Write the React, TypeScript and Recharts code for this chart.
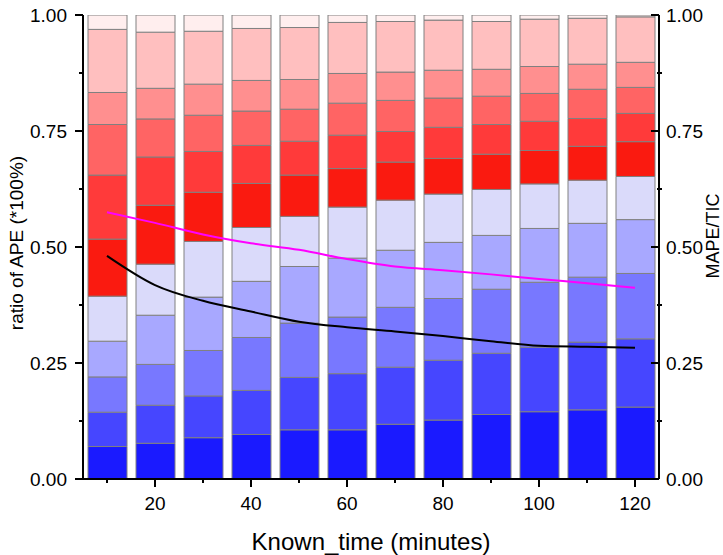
import { ComposedChart, Bar, Line, XAxis, YAxis } from 'recharts';

// x categories (minutes)
const knownTime = [10, 20, 30, 40, 50, 60, 70, 80, 90, 100, 110, 120];

// share of each APE band, bottom band first
const ape1 = [0.070, 0.077, 0.089, 0.096, 0.106, 0.106, 0.118, 0.127, 0.139, 0.145, 0.149, 0.155];
const ape2 = [0.074, 0.082, 0.090, 0.095, 0.113, 0.121, 0.123, 0.129, 0.132, 0.139, 0.146, 0.147];
const ape3 = [0.076, 0.088, 0.098, 0.114, 0.117, 0.122, 0.129, 0.133, 0.138, 0.140, 0.140, 0.141];
const ape4 = [0.077, 0.106, 0.115, 0.121, 0.122, 0.127, 0.123, 0.121, 0.116, 0.116, 0.116, 0.116];
const ape5 = [0.097, 0.110, 0.120, 0.116, 0.108, 0.110, 0.108, 0.104, 0.099, 0.096, 0.093, 0.093];
const ape6 = [0.123, 0.127, 0.106, 0.095, 0.089, 0.083, 0.082, 0.077, 0.076, 0.072, 0.073, 0.075];
const ape7 = [0.138, 0.104, 0.088, 0.082, 0.073, 0.072, 0.066, 0.067, 0.064, 0.063, 0.060, 0.061];
const ape8 = [0.109, 0.082, 0.078, 0.074, 0.069, 0.069, 0.067, 0.063, 0.061, 0.060, 0.063, 0.056];
const ape9 = [0.069, 0.066, 0.067, 0.066, 0.064, 0.064, 0.061, 0.060, 0.058, 0.058, 0.054, 0.054];
const ape10 = [0.136, 0.121, 0.114, 0.112, 0.112, 0.110, 0.109, 0.108, 0.103, 0.102, 0.099, 0.098];
const ape11 = [0.031, 0.037, 0.035, 0.029, 0.027, 0.016, 0.014, 0.011, 0.014, 0.009, 0.007, 0.004];

// right axis lines
const mape = [0.575, 0.552, 0.527, 0.508, 0.494, 0.474, 0.458, 0.450, 0.441, 0.431, 0.422, 0.412];
const tic = [0.481, 0.418, 0.384, 0.361, 0.339, 0.327, 0.318, 0.308, 0.297, 0.287, 0.285, 0.283];

const yTicks = [0, 0.125, 0.25, 0.375, 0.5, 0.625, 0.75, 0.875, 1];

const segments = [ape1, ape2, ape3, ape4, ape5, ape6, ape7, ape8, ape9, ape10, ape11];
const segColors = [
    '#1a1aff', '#4646ff', '#7878ff', '#a8a8ff', '#dadafa',
    '#fa1a10', '#ff3a3a', '#ff6464', '#ff8f8f', '#ffbfbf', '#ffeeee',
];

const data = knownTime.map((t, i) => {
    const row: any = { t, mape: mape[i], tic: tic[i] };
    segments.forEach((s, k) => {
        row[`s${k}`] = s[i];
    });
    return row;
});

const FONT = "'Liberation Sans', Arial, sans-serif";

const XTick = (props: any) => {
    const { x, y, payload } = props;
    const major = payload.value % 20 === 0;
    return (
        <g>
            <line x1={x} y1={y} x2={x} y2={y + (major ? 8 : 4)} stroke="#000" strokeWidth={2} />
            {major && (
                <text x={x} y={y + 31} textAnchor="middle" fontSize={19} fontFamily={FONT} fill="#000">
                    {payload.value}
                </text>
            )}
        </g>
    );
};

const isMajor = (v: number) => Math.abs(v * 4 - Math.round(v * 4)) < 1e-6;

const LeftTick = (props: any) => {
    const { x, y, payload } = props;
    const major = isMajor(payload.value);
    return (
        <g>
            <line x1={x - (major ? 8 : 4)} y1={y} x2={x} y2={y} stroke="#000" strokeWidth={2} />
            {major && (
                <text x={x - 16} y={y} dy="0.36em" textAnchor="end" fontSize={19} fontFamily={FONT} fill="#000">
                    {payload.value.toFixed(2)}
                </text>
            )}
        </g>
    );
};

const RightTick = (props: any) => {
    const { x, y, payload } = props;
    const major = isMajor(payload.value);
    return (
        <g>
            {major ? (
                <line x1={x - 8} y1={y} x2={x} y2={y} stroke="#000" strokeWidth={2} />
            ) : (
                <line x1={x - 2} y1={y} x2={x + 3} y2={y} stroke="#000" strokeWidth={2} />
            )}
            {major && (
                <text x={x + 7} y={y} dy="0.36em" textAnchor="start" fontSize={19} fontFamily={FONT} fill="#000">
                    {payload.value.toFixed(2)}
                </text>
            )}
        </g>
    );
};

const leftTitle = (props: any) => {
    const vb = props.viewBox;
    const cx = vb.x + 16;
    const cy = vb.y + vb.height / 2 - 4;
    return (
        <text x={cx} y={cy} dy="0.36em" transform={`rotate(-90 ${cx} ${cy})`} textAnchor="middle"
            fontSize={19} fontFamily={FONT} fill="#000">
            ratio of APE (*100%)
        </text>
    );
};

const rightTitle = (props: any) => {
    const vb = props.viewBox;
    const cx = vb.x + 54;
    const cy = vb.y + vb.height / 2 - 11;
    return (
        <text x={cx} y={cy} dy="0.36em" transform={`rotate(-90 ${cx} ${cy})`} textAnchor="middle"
            fontSize={18} fontFamily={FONT} fill="#000">
            MAPE/TIC
        </text>
    );
};

const xTitle = (props: any) => {
    const vb = props.viewBox;
    return (
        <text x={vb.x + vb.width / 2} y={vb.y + 71} textAnchor="middle" fontSize={24} fontFamily={FONT} fill="#000">
            Known_time (minutes)
        </text>
    );
};

export default function App() {
    return (
        <div style={{ position: 'absolute', left: 0, top: 0, width: 723, height: 555, background: '#fff' }}>
            <ComposedChart width={723} height={555} data={data} margin={{ top: 15, right: 0, bottom: 0, left: 0 }}>
                <XAxis
                    dataKey="t"
                    height={76}
                    tickSize={0}
                    tickMargin={0}
                    tickLine={false}
                    interval={0}
                    tick={<XTick />}
                    axisLine={{ stroke: '#000', strokeWidth: 2 }}
                    label={xTitle}
                />
                <YAxis
                    yAxisId="left"
                    width={83}
                    domain={[0, 1]}
                    allowDataOverflow
                    ticks={yTicks}
                    interval={0}
                    tickSize={0}
                    tickMargin={0}
                    tickLine={false}
                    tick={<LeftTick />}
                    axisLine={{ stroke: '#000', strokeWidth: 2 }}
                    label={leftTitle}
                />
                <YAxis
                    yAxisId="right"
                    orientation="right"
                    width={64}
                    domain={[0, 1]}
                    allowDataOverflow
                    ticks={yTicks}
                    interval={0}
                    tickSize={0}
                    tickMargin={0}
                    tickLine={false}
                    tick={<RightTick />}
                    axisLine={{ stroke: '#000', strokeWidth: 2 }}
                    label={rightTitle}
                />
                {segments.map((_, k) => (
                    <Bar
                        key={k}
                        yAxisId="left"
                        dataKey={`s${k}`}
                        stackId="ape"
                        barSize={39}
                        fill={segColors[k]}
                        stroke="#808080"
                        strokeWidth={1}
                        isAnimationActive={false}
                    />
                ))}
                <Line
                    yAxisId="right"
                    type="monotone"
                    dataKey="mape"
                    stroke="#ff00ff"
                    strokeWidth={2}
                    dot={false}
                    isAnimationActive={false}
                />
                <Line
                    yAxisId="right"
                    type="monotone"
                    dataKey="tic"
                    stroke="#000000"
                    strokeWidth={2}
                    dot={false}
                    isAnimationActive={false}
                />
            </ComposedChart>
        </div>
    );
}
